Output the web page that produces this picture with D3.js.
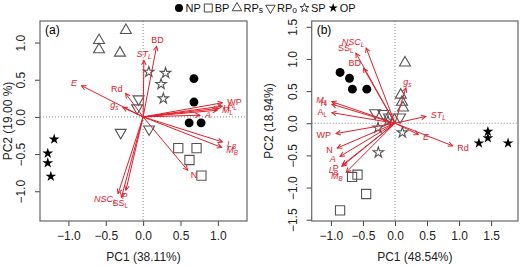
<!DOCTYPE html>
<html>
<head>
<meta charset="utf-8">
<script src="https://cdn.jsdelivr.net/npm/d3@7"></script>
<style>
  body { margin: 0; background: #fff; }
  text { font-family: "Liberation Sans", Arial, sans-serif; }
</style>
</head>
<body>
<div id="chart"></div>
<script>
// groups (same order in both panels, 4 samples each)
const groups = ["NP", "BP", "RPs", "RPo", "SP", "OP"];
const groupBase = ["NP", "BP", "RP", "RP", "SP", "OP"];
const groupSub = ["", "", "s", "o", "", ""];
const sampleGroup = ["NP","NP","NP","NP","BP","BP","BP","BP","RPs","RPs","RPs","RPs",
                     "RPo","RPo","RPo","RPo","SP","SP","SP","SP","OP","OP","OP","OP"];

// panel (a) scores
const scoreAx = [0.68, 0.68, 0.616, 0.776,  0.47, 0.715, 0.62, 0.78,  -0.23, -0.59, -0.59, -0.31,
                 -0.06, -0.08, -0.30, 0.08,  0.076, 0.30, 0.24, 0.27,  -1.19, -1.276, -1.276, -1.235];
const scoreAy = [0.515, 0.20, -0.08, -0.08,  -0.42, -0.42, -0.58, -0.79,  1.165, 1.03, 0.906, 0.86,
                 0.24, 0.12, -0.21, -0.165,  0.605, 0.59, 0.44, 0.247,  -0.30, -0.49, -0.62, -0.80];

// panel (b) scores
const scoreBx = [-0.857, -0.71, -0.665, -0.44,  -0.585, -0.67, -0.45, -0.857,  0.156, 0.09, 0.11, 0.125,
                 -0.31, -0.18, -0.095, 0.08,  0.115, -0.26, -0.265, -0.11,  1.31, 1.45, 1.45, 1.765];
const scoreBy = [0.79, 0.70, 0.53, 0.53,  -0.80, -0.835, -1.10, -1.355,  0.94, 0.44, 0.33, 0.24,
                 0.16, 0.15, 0.095, 0.095,  -0.145, -0.455, -0.07, 0.035,  -0.31, -0.23, -0.13, -0.31];

// trait loadings ("_" marks a subscript)
const traits = ["BD", "ST_L", "E", "Rd", "g_s", "WP", "A_L", "M_L", "H", "A", "L_B", "M_B", "N", "NSC_L", "SS_L", "P"];
const italicTraits = ["E", "g_s", "A", "L_B", "M_B", "NSC_L", "ST_L", "M_L"];
const loadAx = [0.18, 0.01, -0.825, -0.235, -0.27, 1.06, 1.06, 0.99, 1.01, 0.76, 1.06, 1.05, 0.594, -0.335, -0.29, -0.23];
const loadAy = [0.95, 0.76, 0.42, 0.315, 0.126, 0.19, 0.145, 0.09, 0.115, 0.023, -0.336, -0.41, -0.716, -1.03, -1.08, -0.985];
const loadBx = [-0.49, 0.48, 0.365, 0.9, 0.17, -0.92, -0.985, -0.985, -0.985, -0.857, -0.83, -0.76, -0.9, -0.45, -0.61, -0.815];
const loadBy = [0.855, 0.105, -0.175, -0.35, 0.55, -0.16, 0.165, 0.335, 0.295, -0.515, -0.67, -0.76, -0.385, 1.17, 1.09, -0.645];

const ticksA_x = [-1.0, -0.5, 0.0, 0.5, 1.0];
const ticksA_y = [-1.0, -0.5, 0.0, 0.5, 1.0];
const ticksB_x = [-1.0, -0.5, 0.0, 0.5, 1.0, 1.5];
const ticksB_y = [-1.5, -1.0, -0.5, 0.0, 0.5, 1.0, 1.5];

const W = 520, H = 266;
const red = "#e0202c";
const grey = "#555";

const svg = d3.select("#chart").append("svg")
  .attr("width", W).attr("height", H);

svg.append("defs").append("marker")
  .attr("id", "head")
  .attr("viewBox", "-6 -4 7 8")
  .attr("markerWidth", 7).attr("markerHeight", 8)
  .attr("markerUnits", "userSpaceOnUse")
  .attr("orient", "auto")
  .append("path")
  .attr("d", "M-4.5,-2.3L0,0L-4.5,2.3")
  .attr("fill", "none")
  .attr("stroke", red)
  .attr("stroke-width", 1);

const shape = {
  NP: { type: d3.symbolCircle, size: 62, fill: "#000", stroke: "none", rot: 0 },
  BP: { type: d3.symbolSquare, size: 85, fill: "none", stroke: grey, rot: 0 },
  RPs: { type: d3.symbolTriangle, size: 52, fill: "none", stroke: grey, rot: 0 },
  RPo: { type: d3.symbolTriangle, size: 52, fill: "none", stroke: grey, rot: 180 },
  SP: { type: d3.symbolStar, size: 34, fill: "none", stroke: grey, rot: 0 },
  OP: { type: d3.symbolStar, size: 36, fill: "#000", stroke: "none", rot: 0 }
};

function subText(sel, label, size) {
  const parts = label.split("_");
  sel.append("tspan").text(parts[0]);
  if (parts[1]) sel.append("tspan").attr("font-size", size * 0.7).attr("dy", 2).text(parts[1]);
}

function panel(opt) {
  const g = svg.append("g");
  const x = d3.scaleLinear().domain(opt.xDom).range([opt.left, opt.right]);
  const y = d3.scaleLinear().domain(opt.yDom).range([opt.bottom, opt.top]);

  // zero lines
  g.append("line").attr("x1", x(0)).attr("x2", x(0)).attr("y1", opt.top).attr("y2", opt.bottom)
    .attr("stroke", "#888").attr("stroke-dasharray", "1,2");
  g.append("line").attr("x1", opt.left).attr("x2", opt.right).attr("y1", y(0)).attr("y2", y(0))
    .attr("stroke", "#888").attr("stroke-dasharray", "1,2");

  // axes
  const ax = g.append("g").attr("transform", `translate(0,${opt.bottom})`)
    .call(d3.axisBottom(x).tickValues(opt.xTicks).tickFormat(d3.format(".1f")).tickSize(5).tickPadding(5));
  const ay = g.append("g").attr("transform", `translate(${opt.left},0)`)
    .call(d3.axisLeft(y).tickValues(opt.yTicks).tickFormat(d3.format(".1f")).tickSize(5).tickPadding(4));
  [ax, ay].forEach(a => {
    a.select(".domain").remove();
    a.selectAll(".tick line").attr("stroke", "#444");
    a.selectAll("text").attr("font-size", 12).attr("fill", "#222")
      .attr("font-family", "Liberation Sans, Arial, sans-serif")
      .text(d => d3.format(".1f")(d).replace("-", "\u2212"));
  });
  ay.selectAll(".tick text")
    .attr("text-anchor", "middle").attr("x", 0).attr("dy", 0)
    .attr("transform", "translate(-15,0) rotate(-90)");

  g.append("rect").attr("x", opt.left).attr("y", opt.top)
    .attr("width", opt.right - opt.left).attr("height", opt.bottom - opt.top)
    .attr("fill", "none").attr("stroke", "#666").attr("stroke-width", 1.2);

  g.append("text").attr("x", opt.left + 5).attr("y", opt.top + 13)
    .attr("font-family", "Liberation Serif, Times New Roman, serif").attr("font-size", 12)
    .text(opt.tag);

  g.append("text").attr("x", (opt.left + opt.right) / 2).attr("y", 261)
    .attr("text-anchor", "middle").attr("font-size", 12).attr("fill", "#222").text(opt.xTitle);
  g.append("text").attr("transform", `translate(${opt.yTitleX},${(opt.top + opt.bottom) / 2}) rotate(-90)`)
    .attr("text-anchor", "middle").attr("font-size", 12).attr("fill", "#222").text(opt.yTitle);

  // sample points
  sampleGroup.forEach((grp, i) => {
    const s = shape[grp];
    g.append("path")
      .attr("d", d3.symbol().type(s.type).size(s.size)())
      .attr("transform", `translate(${x(opt.sx[i])},${y(opt.sy[i])}) rotate(${s.rot})`)
      .attr("fill", s.fill).attr("stroke", s.stroke).attr("stroke-width", 1.1);
  });

  // loading arrows
  const x0 = x(0), y0 = y(0);
  traits.forEach((t, i) => {
    const tx = x(opt.lx[i]), ty = y(opt.ly[i]);
    g.append("line").attr("x1", x0).attr("y1", y0).attr("x2", tx).attr("y2", ty)
      .attr("stroke", red).attr("stroke-width", 1).attr("marker-end", "url(#head)");
    const dx = tx - x0, dy = ty - y0, len = Math.hypot(dx, dy);
    const ux = dx / len, uy = dy / len;
    const lbl = g.append("text")
      .attr("x", tx + ux * 5)
      .attr("y", ty + uy * 6 + 3)
      .attr("text-anchor", ux < -0.3 ? "end" : ux > 0.3 ? "start" : "middle")
      .attr("font-size", 9).attr("fill", red)
      .attr("font-style", italicTraits.includes(t) ? "italic" : "normal");
    subText(lbl, t, 9);
  });
}

panel({
  tag: "(a)", left: 40, right: 247, top: 21, bottom: 221,
  xDom: [-1.38, 1.39], yDom: [-1.40, 1.29],
  xTicks: ticksA_x, yTicks: ticksA_y,
  sx: scoreAx, sy: scoreAy, lx: loadAx, ly: loadAy,
  xTitle: "PC1 (38.11%)", yTitle: "PC2 (19.00 %)", yTitleX: 12
});

panel({
  tag: "(b)", left: 311.7, right: 518, top: 21, bottom: 221,
  xDom: [-1.30, 1.92], yDom: [-1.52, 1.59],
  xTicks: ticksB_x, yTicks: ticksB_y,
  sx: scoreBx, sy: scoreBy, lx: loadBx, ly: loadBy,
  xTitle: "PC1 (48.54%)", yTitle: "PC2 (18.94%)", yTitleX: 273
});

// legend
const leg = svg.append("g").attr("transform", "translate(179,8)");
let cx = 0;
groups.forEach((grp, i) => {
  const s = shape[grp];
  leg.append("path")
    .attr("d", d3.symbol().type(s.type).size(grp === "NP" ? 50 : s.size * 0.75)())
    .attr("transform", `translate(${cx},0) rotate(${s.rot})`)
    .attr("fill", s.fill).attr("stroke", grp === "NP" || grp === "OP" ? "none" : "#444")
    .attr("stroke-width", 1);
  const t = leg.append("text").attr("x", cx + 6.5).attr("y", 4.2).attr("font-size", 11).attr("fill", "#111");
  t.append("tspan").text(groupBase[i]);
  if (groupSub[i]) t.append("tspan").attr("font-size", 8.5).attr("dy", 1).text(groupSub[i]);
  cx += 6.5 + t.node().getComputedTextLength() + 7.5;
});
</script>
</body>
</html>
